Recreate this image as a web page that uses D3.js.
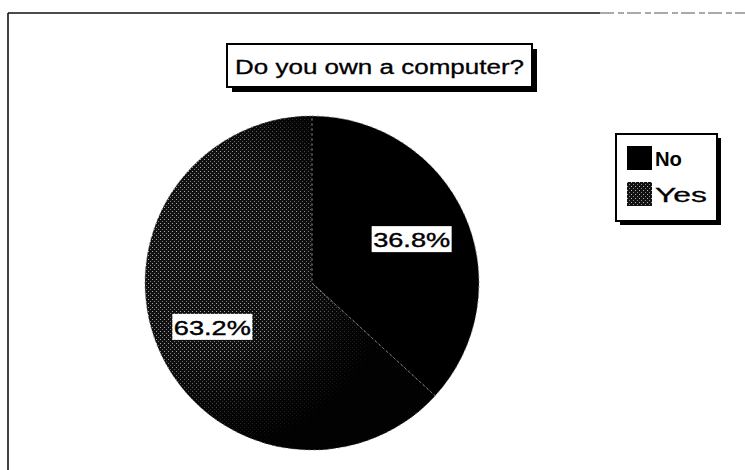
<!DOCTYPE html>
<html>
<head>
<meta charset="utf-8">
<script src="https://cdn.jsdelivr.net/npm/d3@7"></script>
<style>
  html, body { margin: 0; padding: 0; background: #fff; }
  svg { display: block; }
</style>
</head>
<body>
<script>
// Survey answers: share of respondents (percent)
const categories = ["No", "Yes"];
const shares = [36.8, 63.2];
const labels = ["36.8%", "63.2%"];
const title = "Do you own a computer?";

const W = 745, H = 470;
const FONT = "'Liberation Sans', Arial, sans-serif";
const svg = d3.select("body").append("svg").attr("width", W).attr("height", H);
const defs = svg.append("defs");

// Halftone-style fill for the "Yes" slice
const pat = defs.append("pattern").attr("id", "dots")
  .attr("patternUnits", "userSpaceOnUse").attr("width", 4).attr("height", 4);
pat.append("rect").attr("width", 4).attr("height", 4).attr("fill", "#121212");
pat.append("rect").attr("x", 0).attr("y", 0).attr("width", 1).attr("height", 1).attr("fill", "#b4b4b4");
pat.append("rect").attr("x", 2).attr("y", 2).attr("width", 1).attr("height", 1).attr("fill", "#858585");

// Pie geometry
const cx = 312, cy = 283, R = 167;

// shading: the halftone stays visible to the upper left and fades to black elsewhere
const grad = defs.append("radialGradient").attr("id", "fade")
  .attr("gradientUnits", "userSpaceOnUse")
  .attr("cx", -115).attr("cy", -30).attr("r", 200);
grad.append("stop").attr("offset", "0").attr("stop-color", "#000").attr("stop-opacity", 0);
grad.append("stop").attr("offset", "0.5").attr("stop-color", "#000").attr("stop-opacity", 0.1);
grad.append("stop").attr("offset", "0.8").attr("stop-color", "#000").attr("stop-opacity", 0.7);
grad.append("stop").attr("offset", "1").attr("stop-color", "#000").attr("stop-opacity", 0.95);

const color = d3.scaleOrdinal().domain(categories).range(["#000", "url(#dots)"]);

// Outer frame (top and left edges)
const frame = svg.append("g").attr("stroke", "#111").attr("fill", "none");
frame.append("line").attr("x1", 8).attr("y1", 13).attr("x2", 600).attr("y2", 13).attr("stroke-width", 1.6);
frame.append("line").attr("x1", 600).attr("y1", 13).attr("x2", 745).attr("y2", 13)
  .attr("stroke-width", 1.2).attr("stroke-dasharray", "14 4 6 3").attr("stroke", "#555");
frame.append("line").attr("x1", 8).attr("y1", 13).attr("x2", 8).attr("y2", 470).attr("stroke-width", 1.6);

// Title box with drop shadow
const tb = { x: 227, y: 44, w: 305, h: 43 };
const tg = svg.append("g");
tg.append("rect").attr("x", tb.x + 5).attr("y", tb.y + 5).attr("width", tb.w).attr("height", tb.h).attr("fill", "#000");
tg.append("rect").attr("x", tb.x).attr("y", tb.y).attr("width", tb.w).attr("height", tb.h)
  .attr("fill", "#fff").attr("stroke", "#000").attr("stroke-width", 2);
tg.append("text").attr("x", tb.x + 8).attr("y", tb.y + 30)
  .attr("font-family", FONT).attr("font-size", 20)
  .attr("textLength", 289).attr("lengthAdjust", "spacingAndGlyphs")
  .attr("fill", "#000").attr("stroke", "#000").attr("stroke-width", 0.3)
  .text(title);

// Pie
const pie = d3.pie().sort(null).value(d => d.v);
const arcs = pie(categories.map((c, i) => ({ c, v: shares[i], label: labels[i] })));
const arc = d3.arc().innerRadius(0).outerRadius(R);
const labelArc = d3.arc().innerRadius(R * 0.652).outerRadius(R * 0.652);

const pg = svg.append("g").attr("transform", `translate(${cx},${cy})`);
pg.selectAll("path.slice").data(arcs).join("path").attr("class", "slice")
  .attr("d", arc).attr("fill", d => color(d.data.c));
// shading overlay on the halftone slice
pg.append("path").attr("d", arc(arcs[1])).attr("fill", "url(#fade)");
// slice borders
pg.selectAll("path.edge").data(arcs).join("path").attr("class", "edge")
  .attr("d", arc).attr("fill", "none").attr("stroke", "#7a7a7a")
  .attr("stroke-width", 0.8).attr("stroke-dasharray", "2 3");

// Value labels on white boxes
const lg = pg.selectAll("g.lbl").data(arcs).join("g").attr("class", "lbl")
  .attr("transform", d => `translate(${labelArc.centroid(d)})`);
lg.append("rect").attr("x", -40).attr("y", -13).attr("width", 80).attr("height", 26).attr("fill", "#fff");
lg.append("text").attr("text-anchor", "middle").attr("y", 8)
  .attr("font-family", FONT).attr("font-size", 21)
  .attr("textLength", 77).attr("lengthAdjust", "spacingAndGlyphs")
  .attr("fill", "#000").attr("stroke", "#000").attr("stroke-width", 0.4)
  .text(d => d.data.label);

// Legend
const lb = { x: 616, y: 134, w: 101, h: 87 };
const leg = svg.append("g");
leg.append("rect").attr("x", lb.x + 4).attr("y", lb.y + 4).attr("width", lb.w).attr("height", lb.h).attr("fill", "#000");
leg.append("rect").attr("x", lb.x).attr("y", lb.y).attr("width", lb.w).attr("height", lb.h)
  .attr("fill", "#fff").attr("stroke", "#000").attr("stroke-width", 2);
const items = leg.selectAll("g.item").data(categories).join("g").attr("class", "item")
  .attr("transform", (d, i) => `translate(${lb.x + 11},${lb.y + 12 + i * 36})`);
items.append("rect").attr("width", 25).attr("height", 24).attr("fill", d => color(d));
items.append("text").attr("x", 28).attr("y", 20)
  .attr("font-family", FONT).attr("font-size", 21)
  .attr("font-weight", (d, i) => i === 0 ? "bold" : "normal")
  .attr("textLength", (d, i) => i === 0 ? 27 : 52).attr("lengthAdjust", "spacingAndGlyphs")
  .attr("fill", "#000").attr("stroke", "#000").attr("stroke-width", (d, i) => i === 0 ? 0 : 0.3)
  .text(d => d);
</script>
</body>
</html>
